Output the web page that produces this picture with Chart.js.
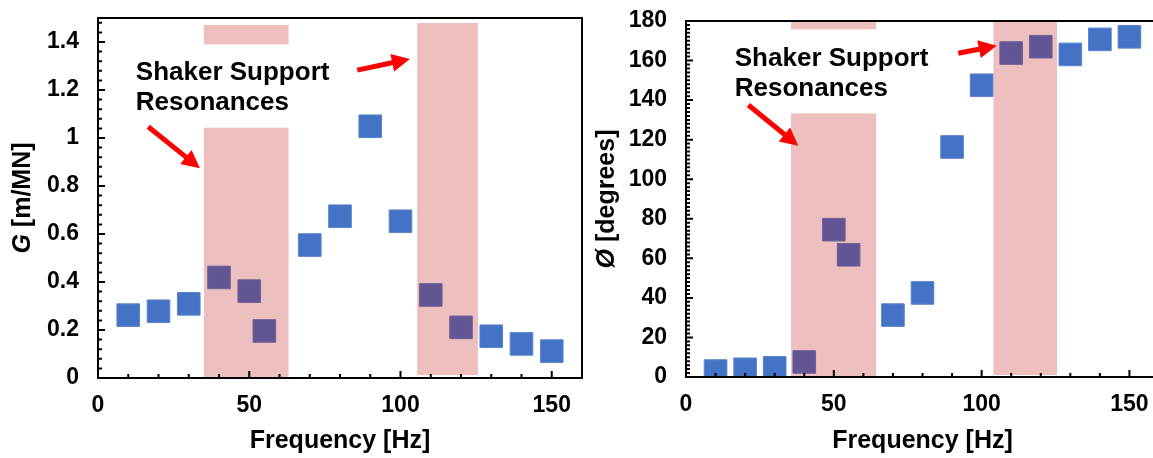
<!DOCTYPE html>
<html>
<head>
<meta charset="utf-8">
<script src="https://cdn.jsdelivr.net/npm/chart.js@4.4.0/dist/chart.umd.min.js"></script>
<style>
  html, body { margin: 0; padding: 0; background: #fff; overflow: hidden; }
  .box { position: absolute; top: 0; height: 458px; }
  #leftBox { left: 0; width: 585px; }
  #rightBox { left: 585px; width: 600px; }
</style>
</head>
<body>
<div class="box" id="leftBox"><canvas id="gainChart" width="585" height="458"></canvas></div>
<div class="box" id="rightBox"><canvas id="phaseChart" width="600" height="458"></canvas></div>
<script>
// measured data
const freq = [10, 20, 30, 40, 50, 55, 70, 80, 90, 100, 110, 120, 130, 140, 150];
const gain = [0.262, 0.278, 0.309, 0.419, 0.362, 0.196, 0.554, 0.674, 1.049, 0.653, 0.346, 0.211, 0.174, 0.142, 0.112];
const phase = [3.0, 3.9, 4.6, 7.6, 74.5, 61.8, 31.3, 42.5, 116.3, 147.5, 163.8, 167.0, 163.1, 170.7, 172.0];

// shaded resonance bands: [xStart, xEnd, yBottom, yTop]
const gainBands = [[35.0, 63.0, 0, 1.471], [105.5, 125.6, 0.012, 1.479]];
const phaseBands = [[35.5, 64.3, 0, 185], [104.0, 125.5, 1.0, 185]];

// white label box behind the note: [xStart, xEnd, yBottom, yTop]
const gainNoteBox = [12, 78, 1.043, 1.390];
const phaseNoteBox = [14, 85, 133.3, 175.8];

const noteLines = ["Shaker Support", "Resonances"];
const gainNoteAt = [12.5, 1.242];
const phaseNoteAt = [16.5, 157.4];

// arrows: [xFrom, yFrom, xTo, yTo]
const gainArrows = [[16.6, 1.047, 33.7, 0.874], [85.7, 1.283, 103.1, 1.329]];
const phaseArrows = [[21.1, 137.5, 38.0, 116.9], [92.1, 163.7, 105.1, 167.5]];

const FONT = '"Liberation Sans", Arial, sans-serif';

function drawArrow(ctx, x0, y0, x1, y1) {
  const ang = Math.atan2(y1 - y0, x1 - x0);
  const head = 18, half = 9;
  const bx = x1 - head * Math.cos(ang), by = y1 - head * Math.sin(ang);
  ctx.strokeStyle = "#FF0000";
  ctx.lineWidth = 5;
  ctx.beginPath();
  ctx.moveTo(x0, y0);
  ctx.lineTo(bx + Math.cos(ang), by + Math.sin(ang));
  ctx.stroke();
  ctx.fillStyle = "#FF0000";
  ctx.beginPath();
  ctx.moveTo(x1, y1);
  ctx.lineTo(bx + half * Math.sin(ang), by - half * Math.cos(ang));
  ctx.lineTo(bx - half * Math.sin(ang), by + half * Math.cos(ang));
  ctx.closePath();
  ctx.fill();
}

const decor = {
  id: "decor",
  afterDraw(chart, args, o) {
    const { ctx, chartArea: a, scales: { x, y } } = chart;
    const px = v => x.getPixelForValue(v);
    const py = v => y.getPixelForValue(v);

    ctx.save();
    ctx.beginPath();
    ctx.rect(a.left, a.top, a.right - a.left, a.bottom - a.top);
    ctx.clip();
    ctx.fillStyle = "rgba(182,0,0,0.25)";
    o.bands.forEach(b => {
      ctx.fillRect(px(b[0]), py(b[3]), px(b[1]) - px(b[0]), py(b[2]) - py(b[3]));
    });
    const nb = o.noteBox;
    ctx.fillStyle = "#fff";
    ctx.fillRect(px(nb[0]), py(nb[3]), px(nb[1]) - px(nb[0]), py(nb[2]) - py(nb[3]));
    ctx.restore();

    ctx.save();
    ctx.font = "bold 26px " + FONT;
    ctx.fillStyle = "#000";
    ctx.textAlign = "left";
    ctx.textBaseline = "alphabetic";
    noteLines.forEach((s, i) => ctx.fillText(s, px(o.noteAt[0]), py(o.noteAt[1]) + i * 30.5));
    o.arrows.forEach(r => drawArrow(ctx, px(r[0]), py(r[1]), px(r[2]), py(r[3])));

    // frame
    ctx.strokeStyle = "#000";
    ctx.lineWidth = 2;
    ctx.strokeRect(a.left, a.top, a.right - a.left, a.bottom - a.top);

    // inward ticks, major and minor
    ctx.beginPath();
    for (let i = 0; i * o.xMinor <= x.max + 1e-9; i++) {
      const v = i * o.xMinor;
      const len = (Math.abs(v / o.xMajor - Math.round(v / o.xMajor)) < 1e-6) ? 7 : 4;
      ctx.moveTo(px(v), a.bottom);
      ctx.lineTo(px(v), a.bottom - len);
    }
    for (let i = 0; i * o.yMinor <= y.max + 1e-9; i++) {
      const v = i * o.yMinor;
      const len = (Math.abs(v / o.yMajor - Math.round(v / o.yMajor)) < 1e-6) ? 7 : 4;
      ctx.moveTo(a.left, py(v));
      ctx.lineTo(a.left + len, py(v));
    }
    ctx.stroke();

    // y axis title with italic symbol
    ctx.fillStyle = "#000";
    ctx.translate(a.left - o.titleOffset, (a.top + a.bottom) / 2);
    ctx.rotate(-Math.PI / 2);
    const f1 = "italic bold 25px " + FONT, f2 = "bold 25px " + FONT;
    ctx.font = f1; const w1 = ctx.measureText(o.titleSym).width;
    ctx.font = f2; const w2 = ctx.measureText(o.titleRest).width;
    const start = -(w1 + w2) / 2;
    ctx.textBaseline = "middle";
    ctx.font = f1; ctx.fillText(o.titleSym, start, 0);
    ctx.font = f2; ctx.fillText(o.titleRest, start + w1, 0);
    ctx.restore();
  }
};

function noPad(s) {
  s.paddingLeft = 0; s.paddingRight = 0; s.paddingTop = 0; s.paddingBottom = 0;
}

function makeChart(id, values, area, yMax, yStep, deco) {
  const ctx = document.getElementById(id).getContext("2d");
  return new Chart(ctx, {
    type: "scatter",
    data: {
      datasets: [{
        data: freq.map((f, i) => ({ x: f, y: values[i] })),
        pointStyle: "rect",
        pointRadius: 16,
        pointHoverRadius: 16,
        backgroundColor: "#4472C4",
        borderColor: "#5A84CE",
        borderWidth: 1
      }]
    },
    options: {
      responsive: false,
      animation: false,
      devicePixelRatio: 1,
      layout: { autoPadding: false, padding: { left: 0, top: area.top, right: area.right, bottom: 0 } },
      plugins: { legend: { display: false }, tooltip: { enabled: false }, decor: deco },
      scales: {
        x: {
          type: "linear", min: 0, max: 160,
          grid: { display: false, drawTicks: false },
          border: { display: false },
          ticks: {
            stepSize: 50, includeBounds: false, padding: 14, maxRotation: 0,
            color: "#000", font: { family: FONT, size: 23, weight: "bold" }
          },
          title: {
            display: true, text: "Frequency [Hz]", color: "#000",
            font: { family: FONT, size: 25, weight: "bold" },
            padding: { top: 0, bottom: 2 }
          },
          afterFit(s) { s.height = 458 - area.bottom; noPad(s); }
        },
        y: {
          type: "linear", min: 0, max: yMax,
          grid: { display: false, drawTicks: false },
          border: { display: false },
          ticks: {
            stepSize: yStep, includeBounds: false, padding: area.labelPad,
            color: "#000", font: { family: FONT, size: 23, weight: "bold" },
            callback: v => String(Number(v.toFixed(2)))
          },
          afterFit(s) { s.width = area.left; noPad(s); }
        }
      }
    },
    plugins: [decor]
  });
}

makeChart("gainChart", gain, { left: 98, top: 18, right: 3, bottom: 378, labelPad: 19 }, 1.5, 0.2, {
  bands: gainBands, noteBox: gainNoteBox, noteAt: gainNoteAt, arrows: gainArrows,
  xMajor: 50, xMinor: 10, yMajor: 0.2, yMinor: 0.04,
  titleOffset: 75, titleSym: "G", titleRest: " [m/MN]"
});

makeChart("phaseChart", phase, { left: 101, top: 21, right: 26, bottom: 377, labelPad: 19 }, 180, 20, {
  bands: phaseBands, noteBox: phaseNoteBox, noteAt: phaseNoteAt, arrows: phaseArrows,
  xMajor: 50, xMinor: 10, yMajor: 20, yMinor: 2,
  titleOffset: 78.5, titleSym: "Ø", titleRest: " [degrees]"
});
</script>
</body>
</html>
